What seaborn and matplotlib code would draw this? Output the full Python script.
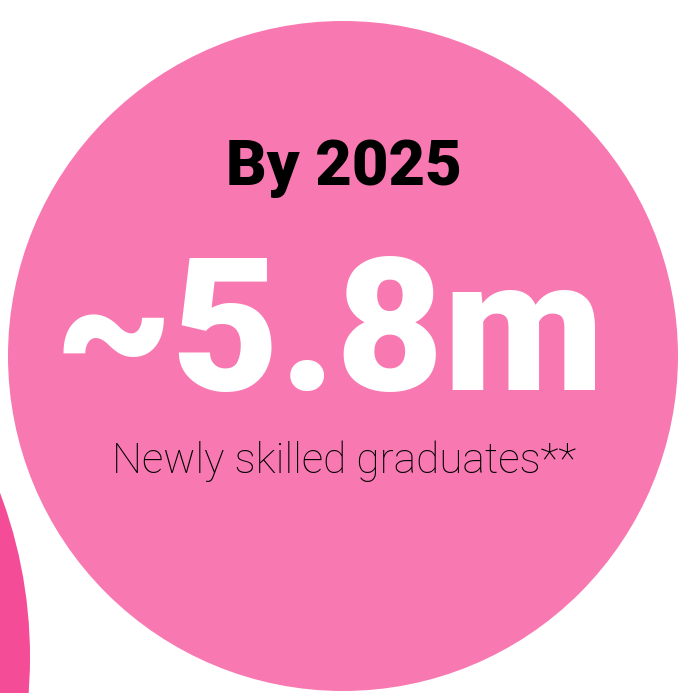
import matplotlib
matplotlib.use("Agg")
import matplotlib.pyplot as plt
from matplotlib.patches import Circle
import seaborn as sns

# circle data (pixel space of the infographic)
circle_names = ["main", "side"]
circle_cx = [343, -435]
circle_cy = [356, 657]
circle_r = [335, 465]
circle_colors = ["#F879B1", "#F54C98"]

# texts
headline = "By 2025"
big_value = "~5.8m"
caption = "Newly skilled graduates**"

sns.set_theme(style="white")
plt.rcParams["font.family"] = ["Roboto", "DejaVu Sans"]

W, H = 691, 693
fig = plt.figure(figsize=(W / 100, H / 100), dpi=100)
ax = fig.add_axes([0, 0, 1, 1])
ax.set_xlim(0, W)
ax.set_ylim(H, 0)
ax.set_aspect("equal")
ax.axis("off")

for cx, cy, r, c in zip(circle_cx, circle_cy, circle_r, circle_colors):
    ax.add_patch(Circle((cx, cy), r, color=c, lw=0))

ax.text(344, 185, headline, ha="center", va="baseline", fontsize=45.5,
        fontweight="black", color="black")
ax.text(330, 390, big_value, ha="center", va="baseline", fontsize=134,
        fontweight="black", color="white")
ax.text(344, 473, caption, ha="center", va="baseline", fontsize=30.5,
        fontweight="light", color="black")

fig.savefig("out.png", dpi=100)
plt.close(fig)
